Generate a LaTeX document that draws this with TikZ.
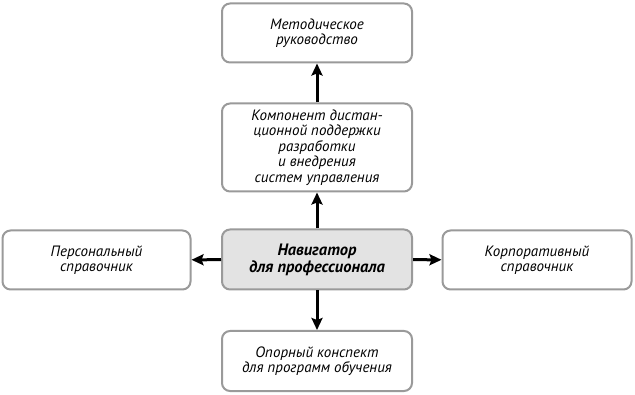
\documentclass[tikz,border=0pt]{standalone}
\usepackage{fontspec}
\setmainfont{PT Sans}
\usetikzlibrary{arrows.meta}
\definecolor{boxgray}{HTML}{9A9A9A}
\definecolor{navfill}{HTML}{E3E3E3}
\tikzset{
  blok/.style={draw=boxgray, line width=2pt, rounded corners=8pt, fill=white,
    align=center, inner sep=0pt, minimum width=190pt, font=\fontsize{15}{15.5}\selectfont\itshape},
  strelka/.style={line width=3pt, -{Stealth[length=12pt,width=11pt,inset=2pt]}}
}
\begin{document}
\begin{tikzpicture}[x=1pt, y=1pt, line join=round]
\useasboundingbox (0,0) rectangle (635,394);
\node[blok, minimum height=59pt] (metod) at (317,361) {Методическое\\руководство};
\node[blok, minimum height=88pt] (komp) at (317,246.5) {Компонент дистан-\\ционной поддержки\\разработки\\и внедрения\\систем управления};
\node[blok, minimum height=60pt, fill=navfill, font=\fontsize{16.5}{17}\selectfont\bfseries\itshape] (nav) at (317,134.5) {Навигатор\\для профессионала};
\node[blok, minimum height=59pt, minimum width=188pt] (pers) at (96.5,134) {Персональный\\справочник};
\node[blok, minimum height=59pt, minimum width=189pt] (korp) at (537,134) {Корпоративный\\справочник};
\node[blok, minimum height=60pt] (opor) at (317,33) {Опорный конспект\\для программ обучения};
\draw[strelka] (nav) -- (komp);
\draw[strelka] (komp) -- (metod);
\draw[strelka] (nav) -- (pers);
\draw[strelka] (nav) -- (korp);
\draw[strelka] (nav) -- (opor);
\end{tikzpicture}
\end{document}
